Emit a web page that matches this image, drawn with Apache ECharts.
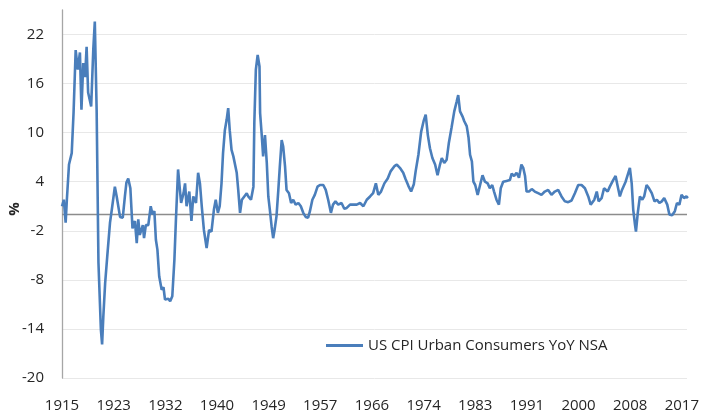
<!DOCTYPE html>
<html>
<head>
<meta charset="utf-8">
<script src="https://cdn.jsdelivr.net/npm/echarts@6/dist/echarts.min.js"></script>
<style>
  html, body { margin: 0; padding: 0; background: #fff; }
  #chart { width: 702px; height: 413px; }
</style>
</head>
<body>
<div id="chart"></div>
<script>
// US CPI urban consumers, YoY %
var years = [
  1915.0, 1915.3, 1915.6, 1915.8, 1916.15, 1916.6, 1916.9, 1917.25, 1917.6, 1917.95,
  1918.2, 1918.5, 1918.8, 1919.05, 1919.3, 1919.8, 1920.15, 1920.4, 1920.7, 1921.0,
  1921.4, 1921.6, 1921.8, 1922.1, 1922.45, 1922.9, 1923.2, 1923.7, 1924.0, 1924.55,
  1925.0, 1925.35, 1925.6, 1925.9, 1926.25, 1926.6, 1927.0, 1927.3, 1927.55, 1927.8,
  1928.3, 1928.5, 1928.8, 1929.2, 1929.6, 1929.9, 1930.2, 1930.45, 1930.7, 1931.0,
  1931.4, 1931.7, 1931.95, 1932.5, 1932.8, 1933.15, 1933.5, 1933.75, 1934.1, 1934.6,
  1935.0, 1935.25, 1935.5, 1935.95, 1936.3, 1936.6, 1937.05, 1937.4, 1937.7, 1938.0,
  1938.35, 1938.8, 1939.2, 1939.6, 1940.0, 1940.3, 1940.65, 1940.95, 1941.25, 1941.5,
  1941.8, 1942.1, 1942.35, 1942.6, 1942.9, 1943.2, 1943.45, 1943.75, 1944.0, 1944.3,
  1944.6, 1945.0, 1945.4, 1945.65, 1946.1, 1946.5, 1946.65, 1946.9, 1947.2, 1947.5,
  1947.6, 1947.85, 1948.1, 1948.4, 1948.7, 1948.95, 1949.2, 1949.5, 1949.75, 1950.0,
  1950.3, 1950.6, 1950.85, 1951.15, 1951.4, 1951.7, 1951.95, 1952.35, 1952.7, 1953.05,
  1953.45, 1953.9, 1954.3, 1954.7, 1955.1, 1955.5, 1955.8, 1956.2, 1956.6, 1957.05,
  1957.45, 1958.0, 1958.4, 1958.8, 1959.25, 1959.6, 1960.0, 1960.45, 1961.0, 1961.45,
  1961.85, 1962.4, 1962.95, 1963.5, 1964.05, 1964.6, 1965.15, 1965.7, 1966.2, 1966.65,
  1967.05, 1967.5, 1968.05, 1968.6, 1969.1, 1969.7, 1970.1, 1970.6, 1971.15, 1971.55,
  1972.0, 1972.45, 1972.9, 1973.2, 1973.65, 1974.1, 1974.5, 1974.85, 1975.2, 1975.55,
  1975.95, 1976.4, 1976.8, 1977.2, 1977.5, 1977.9, 1978.3, 1978.65, 1979.1, 1979.55,
  1979.95, 1980.2, 1980.5, 1980.9, 1981.2, 1981.6, 1981.9, 1982.15, 1982.45, 1982.7,
  1983.0, 1983.4, 1983.8, 1984.2, 1984.6, 1985.05, 1985.4, 1985.8, 1986.1, 1986.5,
  1986.9, 1987.2, 1987.6, 1988.15, 1988.7, 1989.0, 1989.4, 1989.8, 1990.2, 1990.6,
  1990.9, 1991.2, 1991.45, 1991.85, 1992.3, 1992.8, 1993.35, 1993.9, 1994.45, 1995.0,
  1995.55, 1996.1, 1996.65, 1997.2, 1997.75, 1998.3, 1998.85, 1999.4, 1999.95, 2000.5,
  2001.05, 2001.6, 2002.0, 2002.6, 2003.0, 2003.3, 2003.8, 2004.2, 2004.8, 2005.15,
  2005.7, 2006.1, 2006.4, 2006.8, 2007.15, 2007.75, 2008.05, 2008.45, 2008.75, 2009.0,
  2009.3, 2009.45, 2009.75, 2010.1, 2010.5, 2010.8, 2011.2, 2011.6, 2012.05, 2012.5,
  2012.9, 2013.3, 2013.7, 2014.1, 2014.6, 2014.95, 2015.4, 2015.85, 2016.2, 2016.6,
  2016.95, 2017.35, 2017.75, 2018.0
];
var cpiYoY = [
  1.0, 1.8, -1.0, 1.8, 6.1, 7.5, 12.4, 20.1, 17.7, 19.8,
  12.8, 18.5, 16.8, 20.5, 14.9, 13.2, 20.2, 23.6, 12.8, -5.9,
  -14.1, -15.9, -12.5, -8.4, -5.1, -1.0, 0.6, 3.4, 2.2, -0.3,
  -0.4, 2.2, 3.9, 4.4, 3.2, -1.7, -0.8, -3.5, -0.6, -2.5,
  -1.3, -2.9, -1.3, -1.3, 1.0, 0.0, 0.4, -3.1, -4.3, -7.6,
  -9.2, -8.9, -10.4, -10.3, -10.6, -10.0, -5.5, -0.6, 5.5, 1.4,
  2.6, 3.8, 1.0, 2.8, -0.8, 2.2, 1.4, 5.1, 3.8, 1.0,
  -1.9, -4.1, -1.9, -2.1, 0.6, 1.8, 0.2, 1.0, 3.8, 7.5,
  10.3, 11.6, 13.0, 10.3, 7.9, 7.1, 7.3, 5.1, 3.0, 0.2,
  1.8, 2.2, 2.6, 2.2, 1.8, 3.4, 11.2, 17.7, 19.5, 18.1,
  12.4, 9.9, 7.1, 9.7, 6.3, 2.2, 0.6, -1.5, -2.9, -1.8,
  -0.2, 3.0, 5.9, 9.1, 8.3, 5.9, 3.0, 2.6, 1.4, 1.8,
  1.2, 1.4, 1.0, 0.2, -0.3, -0.4, 0.4, 1.8, 2.4, 3.4,
  3.6, 3.6, 3.0, 1.8, 0.2, 1.2, 1.6, 1.2, 1.4, 0.7,
  0.8, 1.2, 1.2, 1.2, 1.4, 1.0, 1.8, 2.2, 2.6, 3.8,
  2.4, 2.8, 3.8, 4.4, 5.3, 5.9, 6.1, 5.7, 5.1, 4.3,
  3.5, 2.8, 3.7, 5.3, 7.3, 10.1, 11.4, 12.2, 9.7, 8.1,
  6.9, 6.1, 4.8, 6.1, 6.9, 6.3, 6.7, 8.7, 10.6, 12.6,
  13.8, 14.6, 12.6, 12.0, 11.4, 10.8, 9.4, 7.3, 6.5, 4.0,
  3.6, 2.4, 3.6, 4.8, 4.0, 3.8, 3.2, 3.6, 2.8, 1.8,
  1.2, 3.2, 4.0, 4.1, 4.2, 5.0, 4.7, 5.1, 4.5, 6.1,
  5.7, 4.7, 2.8, 2.8, 3.1, 2.8, 2.6, 2.4, 2.8, 3.0,
  2.4, 2.8, 3.0, 2.2, 1.6, 1.5, 1.7, 2.6, 3.6, 3.6,
  3.2, 2.2, 1.2, 1.8, 2.8, 1.6, 2.0, 3.2, 2.8, 3.4,
  4.2, 4.7, 3.6, 2.2, 3.0, 4.0, 4.2, 5.7, 3.8, 0.6,
  -1.3, -2.1, 0.2, 2.2, 1.8, 2.2, 3.6, 3.2, 2.6, 1.6,
  1.8, 1.4, 1.6, 2.0, 1.2, 0.0, -0.1, 0.4, 1.4, 1.2,
  2.4, 2.0, 2.2, 2.0
];
var yearLabels = ['1915', '1923', '1932', '1940', '1949', '1957', '1966',
  '1974', '1983', '1991', '2000', '2008', '2017'];
var startYear = 1915;
var labelStep = 8.5;   // labels every 102 months

var seriesData = [];
for (var i = 0; i < years.length; i++) {
  seriesData.push([years[i] - startYear, cpiYoY[i]]);
}

var font = '"Open Sans", sans-serif';
var chart = echarts.init(document.getElementById('chart'));

chart.setOption({
  animation: false,
  backgroundColor: '#ffffff',
  grid: {
    left: 62,
    right: 15,
    top: 10,
    bottom: 35
  },
  legend: {
    left: 321,
    top: 333,
    icon: 'rect',
    itemWidth: 37,
    itemHeight: 3,
    textStyle: {
      fontFamily: font,
      fontSize: 15,
      color: '#262626'
    },
    data: ['US CPI Urban Consumers YoY NSA']
  },
  xAxis: {
    type: 'value',
    min: 0,
    max: 102.85,
    interval: labelStep,
    axisLine: { show: false },
    axisTick: { show: false },
    splitLine: { show: false },
    axisLabel: {
      margin: 20,
      fontFamily: font,
      fontSize: 15,
      color: '#262626',
      showMaxLabel: false,
      formatter: function(v) {
        var k = Math.round(v / labelStep);
        if (Math.abs(v - k * labelStep) > 0.01) return '';
        return yearLabels[k] || '';
      }
    }
  },
  yAxis: {
    type: 'value',
    min: -20,
    max: 25,
    interval: 6,
    axisLine: {
      show: true,
      lineStyle: { color: '#a6a6a6', width: 1.3 }
    },
    axisTick: { show: false },
    splitLine: {
      show: true,
      showMaxLine: false,
      lineStyle: { color: '#e8e8e8', width: 1 }
    },
    axisLabel: {
      margin: 18,
      fontFamily: font,
      fontSize: 15,
      color: '#262626',
      formatter: function(v) {
        return ((v + 20) % 6 === 0) ? String(v) : '';
      }
    }
  },
  graphic: [{
    type: 'text',
    x: 15,
    y: 209,
    rotation: Math.PI / 2,
    style: {
      text: '%',
      font: 'bold 15px "Open Sans", sans-serif',
      fill: '#262626',
      align: 'center',
      verticalAlign: 'middle'
    }
  }],
  series: [{
    name: 'US CPI Urban Consumers YoY NSA',
    type: 'line',
    data: seriesData,
    symbol: 'none',
    z: 3,
    lineStyle: { color: '#4a7ebb', width: 2.6 },
    itemStyle: { color: '#4a7ebb' },
    markLine: {
      silent: true,
      symbol: 'none',
      label: { show: false },
      lineStyle: { color: '#8c8c8c', width: 1.3, type: 'solid' },
      data: [{ yAxis: 0 }],
      z: 1
    }
  }]
});
</script>
</body>
</html>
